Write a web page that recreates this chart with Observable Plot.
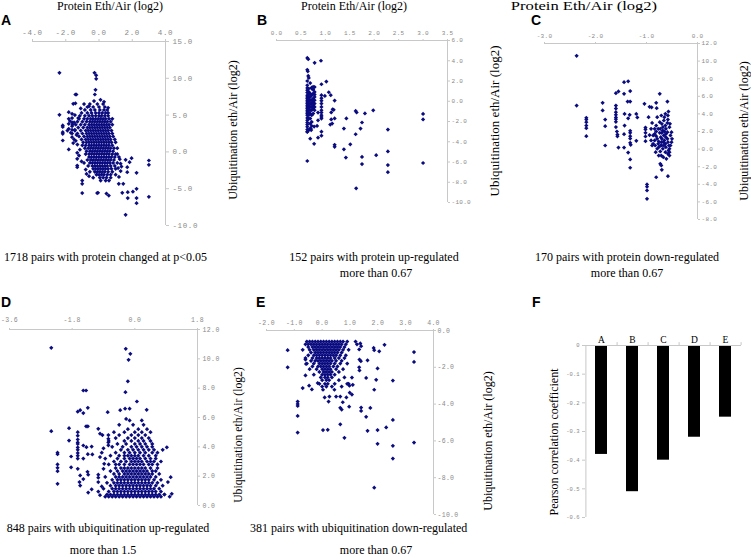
<!DOCTYPE html>
<html><head><meta charset="utf-8">
<script src="https://cdn.jsdelivr.net/npm/d3@7"></script>
<script src="https://cdn.jsdelivr.net/npm/@observablehq/plot@0.6"></script>
<style>
body{margin:0;background:#fff;}
#root{position:relative;width:751px;height:557px;overflow:hidden;background:#fff;}
.t{position:absolute;white-space:nowrap;font-family:"Liberation Serif","Times New Roman",serif;color:#000;line-height:1;}
.lt{position:absolute;white-space:nowrap;font-family:"Liberation Sans",Arial,sans-serif;font-weight:bold;font-size:14px;line-height:1;color:#000;}
</style></head><body><div id="root"></div>
<script>
// ---------------- DATA ----------------
// Panel A: 1718 pairs (protein vs ubiquitination, log2)
const outA = [[-2.38,10.75],[-0.27,10.75],[-0.17,10.4],[-0.17,9.93],[-0.21,8.44],[-0.25,7.8],[-1.42,7.8],[-1.36,7.8],[-1.55,6.53],[-1.42,6.6],[0.09,7.08],[-2.38,5.04],[-2.18,3.59],[-2.18,3.4],[-2.18,2.68],[-2.18,2.46],[-2.18,1.55],[-1.82,5.4],[-1.82,4.5],[-1.82,3.82],[-1.82,3.14],[-1.82,0.33],[-1.62,5.18],[-1.62,4.6],[-1.62,4.0],[-1.62,3.5],[-1.62,3.0],[-1.62,2.5],[-1.62,2.0],[-1.5,1.7],[-1.4,1.5],[-1.31,-0.12],[-1.31,-0.94],[-1.31,-1.85],[-1.31,-2.07],[-1.01,-3.89],[-1.01,-4.34],[-1.01,-5.6],[-0.11,-5.6],[-0.06,-5.55],[0.59,-5.93],[0.45,-5.66],[1.19,-4.33],[1.46,-4.33],[1.4,-5.56],[1.73,-5.47],[2.04,-5.4],[1.73,-6.28],[2.26,-5.02],[2.26,-6.28],[2.26,-6.97],[3.0,-1.17],[3.0,-1.75],[3.0,-6.1],[1.6,-8.55],[1.6,-1.07],[1.96,-0.85],[1.84,-1.4],[1.7,-2.07],[1.7,-2.75],[2.26,-2.84],[1.3,-2.6],[1.2,-3.4],[1.1,-0.3],[1.25,-1.0],[1.3,-1.6],[1.15,-2.2],[1.35,-2.0],[-0.9,-1.5],[-0.8,-2.4],[-0.6,-3.3],[-0.75,-3.0],[-0.3,6.9],[0.3,6.8],[-0.6,6.2],[0.55,6.0],[-0.9,6.5],[-1.1,5.9],[-1.75,4.2],[-1.7,2.6],[-1.5,4.0],[-1.45,3.0],[-1.35,2.3],[-1.25,4.6],[-1.3,1.0],[-1.15,0.3],[-1.6,3.7],[-1.45,5.0],[-1.9,2.9],[-1.55,1.2],[-1.2,-0.5],[-1.05,-1.3]];
const rowsA = [
 [6.5,[-0.55,-0.1,0.25]],
 [6.1,[-0.7,-0.35,0.0,0.35]],
 [5.7,[-0.85,-0.5,-0.25,0.05,0.3,0.5]],
 [5.3,[-1.05,-0.7,-0.45,-0.2,0.0,0.2,0.4,0.55]],
 [4.9,[-1.15,-0.85,-0.6,-0.4,-0.2,0.0,0.15,0.35,0.55]],
 [4.5,[-1.2,-0.9,-0.7,-0.5,-0.35,-0.2,-0.05,0.1,0.25,0.4,0.6,0.8]],
 [4.1,[-1.3,-1.0,-0.75,-0.55,-0.4,-0.25,-0.1,0.05,0.2,0.35,0.5,0.7]],
 [3.7,[-1.4,-1.1,-0.85,-0.6,-0.45,-0.3,-0.15,0.0,0.15,0.3,0.45,0.6,0.8]],
 [3.3,[-1.25,-0.95,-0.7,-0.55,-0.4,-0.25,-0.1,0.05,0.2,0.35,0.5,0.65]],
 [2.9,[-1.45,-1.1,-0.8,-0.65,-0.5,-0.35,-0.2,-0.05,0.1,0.25,0.4,0.55,0.75]],
 [2.5,[-1.3,-1.0,-0.75,-0.6,-0.45,-0.3,-0.15,0.0,0.15,0.3,0.45,0.6,0.8]],
 [2.1,[-1.2,-0.9,-0.7,-0.55,-0.4,-0.25,-0.1,0.05,0.2,0.35,0.5,0.65,0.85]],
 [1.7,[-1.05,-0.8,-0.65,-0.5,-0.35,-0.2,-0.05,0.1,0.25,0.4,0.55,0.7,0.95]],
 [1.3,[-0.95,-0.75,-0.6,-0.45,-0.3,-0.15,0.0,0.15,0.3,0.45,0.6,0.75,1.0]],
 [0.9,[-1.0,-0.8,-0.6,-0.45,-0.3,-0.15,0.0,0.15,0.3,0.45,0.6,0.8]],
 [0.5,[-0.85,-0.65,-0.5,-0.35,-0.2,-0.05,0.1,0.25,0.4,0.55,0.7,0.9,1.1]],
 [0.1,[-0.75,-0.55,-0.4,-0.25,-0.1,0.05,0.2,0.35,0.5,0.65,0.85]],
 [-0.3,[-0.8,-0.6,-0.45,-0.3,-0.15,0.0,0.15,0.3,0.45,0.6,0.8,1.0]],
 [-0.7,[-0.6,-0.45,-0.3,-0.15,0.0,0.15,0.3,0.45,0.6,0.75,0.95,1.2]],
 [-1.1,[-0.7,-0.5,-0.35,-0.2,-0.05,0.1,0.25,0.4,0.55,0.7,0.9]],
 [-1.5,[-0.55,-0.4,-0.25,-0.1,0.05,0.2,0.35,0.5,0.65,0.85,1.1]],
 [-1.9,[-0.65,-0.4,-0.25,-0.1,0.05,0.2,0.35,0.5,0.7,0.95]],
 [-2.3,[-0.35,-0.2,-0.05,0.1,0.25,0.4,0.55,0.75,1.0]],
 [-2.7,[-0.55,-0.25,-0.1,0.05,0.2,0.35,0.55,0.8]],
 [-3.1,[-0.15,0.0,0.15,0.3,0.5,0.7,1.0]],
 [-3.5,[-0.35,0.05,0.25,0.45,0.7]],
 [-3.9,[0.1,0.4,0.6]]
];

// Panel B: 152 pairs with protein up-regulated
const outB = [[0.63,4.28],[0.65,4.15],[0.91,4.0],[0.78,3.8],[0.63,3.1],[0.64,2.96],[0.65,2.5],[0.66,2.3],[0.63,2.0],[0.69,1.8],[1.02,1.94],[0.92,1.68],[0.72,1.35],[0.78,1.4],[0.75,1.15],[1.07,0.89],[1.11,0.6],[0.99,0.53],[0.92,0.6],[0.92,0.3],[0.92,0.06],[1.19,0.07],[1.15,-0.8],[1.17,-0.85],[1.12,-1.1],[1.62,-0.96],[1.64,-1.1],[1.81,-1.2],[1.98,-0.9],[1.43,-1.7],[1.19,-1.7],[1.12,-1.8],[1.14,-2.2],[1.1,-2.3],[0.77,-2.5],[1.75,-2.1],[1.72,-2.7],[1.38,-2.7],[2.28,-2.8],[3.0,-1.25],[3.0,-1.8],[1.62,-3.26],[0.63,-3.0],[0.66,-2.85],[0.71,-2.85],[0.7,-2.7],[0.92,-3.0],[0.92,-3.4],[0.85,-3.6],[0.69,-3.7],[0.77,-4.2],[1.19,-4.3],[1.19,-4.5],[1.51,-4.25],[1.38,-4.75],[1.42,-5.56],[1.75,-5.5],[2.04,-5.33],[2.28,-4.96],[1.75,-6.2],[2.28,-6.3],[2.28,-7.0],[3.0,-6.1],[0.63,-5.9],[1.63,-8.6]];
const colsB = [
 [0.63,[1.58,1.32,1.09,0.86,0.59,0.43,0.26,0.1,-0.07,-0.23,-0.4,-0.56,-0.72,-0.89,-1.05,-1.22,-1.38,-1.65,-1.88,-2.11,-2.3,-2.53,-2.8,-3.03]],
 [0.66,[1.25,0.92,0.66,0.43,0.2,0.0,-0.23,-0.46,-0.66,-0.89,-1.12,-1.38,-1.71]],
 [0.69,[0.76,0.43,0.1,-0.23,-0.56,-0.89,-1.22,-1.71,-2.2,-2.7]],
 [0.72,[1.25,0.59,0.1,-0.23,-0.56,-0.89,-1.38,-2.04,-2.44]],
 [0.75,[1.42,0.76,0.26,-0.07,-0.4,-0.72,-1.22]],
 [0.78,[0.92,0.66,0.43,0.1,-0.23,-0.56,-0.89]],
 [0.85,[-1.12,-1.88]],
 [0.92,[-0.23,-0.56,-0.89,-1.12,-1.38,-1.55,-1.71]],
 [0.83,[-2.44]]
];

// Panel C: 170 pairs with protein down-regulated
const ptsC = [[-2.37,10.6],[-2.37,4.95],[-2.18,3.56],[-2.18,3.35],[-2.18,3.06],[-2.18,2.68],[-2.18,2.38],[-2.18,1.47],[-1.86,5.26],[-1.86,4.39],[-1.81,3.36],[-1.81,2.6],[-1.81,0.41],[-1.6,4.95],[-1.6,4.6],[-1.6,4.2],[-1.6,3.9],[-1.6,3.6],[-1.6,3.4],[-1.6,3.1],[-1.6,2.5],[-1.58,2.0],[-1.57,1.65],[-1.57,1.45],[-1.6,6.35],[-1.55,6.55],[-1.55,0.18],[-1.44,7.6],[-1.36,7.7],[-1.44,6.28],[-1.32,6.6],[-1.37,5.4],[-1.32,5.4],[-1.43,4.0],[-1.36,3.5],[-1.33,3.9],[-1.43,2.68],[-1.44,1.7],[-1.44,0.18],[-1.36,-0.39],[-1.32,2.08],[-1.32,1.85],[-1.32,1.47],[-1.32,1.2],[-1.32,0.71],[-1.31,0.49],[-1.32,-1.18],[-1.32,-2.12],[-1.2,4.0],[-1.18,3.6],[-1.2,0.94],[-1.04,5.15],[-1.02,2.45],[-1.02,2.23],[-1.02,1.85],[-1.02,1.43],[-1.02,0.9],[-0.99,-4.02],[-0.99,-4.28],[-0.99,-4.7],[-0.99,-5.65],[-0.96,3.63],[-0.94,4.8],[-0.9,4.75],[-0.94,1.6],[-0.89,0.41],[-0.81,5.26],[-0.8,4.65],[-0.74,6.28],[-0.81,-3.2],[-0.59,5.4],[-0.57,4.27],[-0.58,-3.08],[-0.73,-1.67],[-0.71,-1.86],[-0.7,-2.35],
 [-0.84,1.73],[-0.81,1.47],[-0.79,1.17],[-0.76,0.86],[-0.74,1.85],[-0.72,1.36],[-0.71,0.79],[-0.7,0.41],[-0.68,2.11],[-0.66,1.55],[-0.65,0.98],[-0.63,0.6],[-0.62,1.73],[-0.59,1.17],[-0.58,0.79],[-0.56,0.41],[-0.55,0.04],[-0.63,2.68],[-0.59,2.98],[-0.66,3.25],[-0.7,2.87],[-0.68,2.49],[-0.62,2.3],[-0.58,3.36],[-0.65,3.63],[-0.81,2.68],[-0.77,2.3],[-0.83,0.41],[-0.79,0.04],[-0.73,-0.27],[-0.68,0.04],[-0.63,-0.35],[-0.58,-0.54],[-0.55,-0.73],[-0.71,-0.73],[-0.76,0.22],[-0.84,0.98],[-0.87,1.55],[-0.91,2.3],[-0.89,2.98],[-0.74,3.06],[-0.71,3.82],[-0.79,3.63],[-0.55,2.49],[-0.53,1.55],[-0.51,0.79],[-0.57,-0.15],[-0.62,0.22],[-0.66,0.41],[-0.72,0.41],[-0.77,0.6],[-0.7,1.17],[-0.67,0.79],[-0.62,1.36],[-0.73,2.3],[-0.7,1.85],[-0.65,2.0],[-0.59,1.92],[-0.81,2.0],[-0.84,2.3],[-0.87,0.6],[-0.82,-0.35],[-0.76,-0.73],[-0.67,-0.92],[-0.61,-1.11],[-0.55,-0.35],[-0.53,0.41],[-0.5,1.17],[-0.51,1.92],[-0.54,2.87],[-0.58,3.82],[-0.63,4.01],[-0.91,0.98]];

// Panel D: 848 pairs with ubiquitination up-regulated
const outD = [[-2.4,10.75],[-2.4,5.07],[-2.22,3.6],[-2.22,3.5],[-2.22,2.8],[-2.22,2.57],[-2.22,2.34],[-2.22,1.48],[-1.89,5.27],[-1.89,4.43],[-1.83,3.34],[-1.83,2.6],[-1.64,5.0],[-1.64,4.76],[-1.64,4.5],[-1.64,4.3],[-1.64,4.2],[-1.64,3.96],[-1.64,3.8],[-1.64,3.58],[-1.64,3.4],[-1.64,3.2],[-1.64,6.4],[-1.57,6.5],[-1.64,2.5],[-1.57,2.05],[-1.59,1.6],[-1.57,1.36],[-1.48,7.84],[-1.4,7.84],[-1.48,6.3],[-1.35,6.66],[-1.48,4.09],[-1.39,3.98],[-1.24,4.02],[-1.4,5.4],[-1.35,5.4],[-1.35,3.5],[-1.48,3.2],[-1.36,2.3],[-1.34,2.1],[-1.48,1.8],[-1.34,0.88],[-1.24,1.1],[-1.22,3.48],[-1.05,5.23],[-1.0,4.9],[-0.93,4.8],[-0.95,3.6],[-0.88,2.84],[-1.05,2.1],[-1.05,1.9],[-1.05,0.95],[-0.78,6.36],[-0.76,4.8],[-0.76,4.55],[-0.76,4.3],[-0.76,4.1],[-0.42,6.5],[-0.28,6.6],[-0.15,6.6],[-0.26,10.68],[-0.13,10.34],[-0.18,9.93],[-0.2,8.47],[-0.27,7.73],[0.06,7.09],[0.34,6.52],[-0.25,5.9],[0.92,3.97],[0.8,3.8],[1.03,1.93],[0.95,1.6],[0.85,0.75],[1.0,0.6],[1.06,0.8],[-1.0,0.7],[-0.95,1.3],[-1.05,1.6],[-0.9,2.5],[-1.0,3.3],[-0.9,3.9]];
const rowsD = [
 [0.6,[-0.85,-0.75,-0.65,-0.55,-0.45,-0.35,-0.25,-0.15,-0.05,0.05,0.15,0.25,0.35,0.45,0.55,0.65,0.75]],
 [0.75,[-0.8,-0.7,-0.6,-0.5,-0.4,-0.3,-0.2,-0.1,0.0,0.1,0.2,0.3,0.4,0.5,0.6,0.7,0.85]],
 [0.95,[-0.75,-0.6,-0.5,-0.4,-0.3,-0.2,-0.1,0.0,0.1,0.2,0.3,0.4,0.5,0.6,0.75]],
 [1.15,[-0.9,-0.65,-0.55,-0.45,-0.35,-0.25,-0.15,-0.05,0.05,0.15,0.25,0.35,0.45,0.55,0.7]],
 [1.35,[-0.7,-0.55,-0.45,-0.35,-0.25,-0.15,-0.05,0.05,0.15,0.25,0.35,0.45,0.6,0.8]],
 [1.55,[-0.8,-0.6,-0.5,-0.4,-0.3,-0.2,-0.1,0.0,0.1,0.2,0.3,0.4,0.5,0.65]],
 [1.75,[-0.65,-0.5,-0.4,-0.3,-0.2,-0.1,0.0,0.1,0.2,0.3,0.4,0.55,0.75]],
 [1.95,[-0.85,-0.55,-0.45,-0.35,-0.25,-0.15,-0.05,0.05,0.15,0.25,0.35,0.45,0.6]],
 [2.15,[-0.6,-0.45,-0.3,-0.2,-0.1,0.0,0.1,0.2,0.3,0.4,0.5,0.7]],
 [2.35,[-0.7,-0.5,-0.35,-0.25,-0.15,-0.05,0.05,0.15,0.25,0.35,0.5,0.6]],
 [2.55,[-0.55,-0.4,-0.3,-0.2,-0.1,0.0,0.1,0.2,0.3,0.45,0.65]],
 [2.8,[-0.75,-0.55,-0.45,-0.3,-0.15,-0.05,0.05,0.15,0.25,0.4,0.5,0.65]],
 [3.0,[-0.6,-0.4,-0.25,-0.1,0.0,0.1,0.2,0.35,0.45,0.55,0.75]],
 [3.2,[-0.85,-0.5,-0.3,-0.15,-0.05,0.05,0.15,0.3,0.45,0.6]],
 [3.4,[-0.7,-0.45,-0.3,-0.2,-0.1,0.0,0.1,0.25,0.4,0.6]],
 [3.6,[-0.55,-0.3,-0.15,0.0,0.15,0.3,0.5,0.65]],
 [3.8,[-0.4,-0.2,-0.05,0.1,0.25,0.4,0.55]],
 [4.0,[-0.65,-0.35,-0.1,0.05,0.2,0.35,0.5]],
 [4.2,[-0.5,-0.25,0.0,0.15,0.3,0.5]],
 [4.4,[-0.75,-0.3,-0.1,0.1,0.25,0.45]],
 [4.6,[-0.55,-0.2,0.0,0.2,0.4]],
 [4.8,[-0.45,-0.1,0.1,0.3]],
 [5.0,[-0.6,-0.3,0.0,0.2,0.45]],
 [5.2,[-0.2,0.1,0.35]],
 [5.5,[-0.45,-0.05,0.25]],
 [5.8,[-0.15,0.2]]
];

// Panel E: 381 pairs with ubiquitination down-regulated
const outE = [[-1.24,-1.07],[-1.24,-2.0],[-0.88,-3.86],[-0.88,-3.99],[-0.88,-4.1],[-0.88,-4.64],[-0.88,-5.55],[-0.7,-3.13],[-0.6,-1.58],[-0.58,-1.82],[-0.6,-2.44],[-0.47,-3.0],[-0.37,-3.2],[-0.16,-2.86],[0.03,-3.22],[0.03,-5.41],[0.2,-5.4],[0.09,-3.64],[0.26,-3.59],[0.23,-3.86],[0.44,-3.22],[0.5,-3.59],[0.65,-3.59],[0.87,-3.64],[0.65,-4.2],[0.7,-4.3],[0.65,-5.1],[0.8,-5.83],[0.74,-3.9],[0.97,-4.14],[0.99,-3.38],[1.07,-3.48],[0.95,-2.9],[0.98,-3.0],[1.07,-2.56],[1.1,-2.95],[1.34,-2.17],[1.33,-2.0],[1.34,-1.58],[1.39,-1.67],[1.37,-0.7],[1.4,-0.85],[1.33,-1.03],[1.63,-1.62],[1.58,-2.58],[1.4,-4.19],[1.4,-4.37],[1.73,-4.21],[1.58,-4.69],[1.63,-5.45],[1.85,-0.95],[1.87,-1.07],[2.05,-1.13],[2.24,-0.78],[1.99,-2.06],[1.94,-2.68],[1.87,-3.22],[1.99,-5.41],[1.99,-6.16],[2.3,-5.27],[2.54,-2.72],[2.54,-4.86],[2.54,-6.27],[2.54,-6.96],[1.87,-8.54],[3.3,-1.17],[3.3,-1.71],[3.3,-6.09]];
const rowsE = [
 [-0.6,[-0.55,-0.45,-0.35,-0.25,-0.15,-0.05,0.05,0.15,0.25,0.35,0.45,0.55,0.65,0.75,0.9,1.2]],
 [-0.75,[-0.6,-0.5,-0.4,-0.3,-0.2,-0.1,0.0,0.1,0.2,0.3,0.4,0.5,0.6,0.7,0.85,1.25]],
 [-0.9,[-0.5,-0.35,-0.25,-0.15,-0.05,0.05,0.15,0.25,0.35,0.45,0.55,0.65,0.8]],
 [-1.05,[-0.7,-0.45,-0.3,-0.2,-0.1,0.0,0.1,0.2,0.3,0.4,0.5,0.6,0.75,0.95]],
 [-1.2,[-0.4,-0.25,-0.15,-0.05,0.05,0.15,0.25,0.35,0.45,0.55,0.7]],
 [-1.35,[-0.5,-0.3,-0.2,-0.1,0.0,0.1,0.2,0.3,0.4,0.5,0.65,0.85]],
 [-1.5,[-0.6,-0.35,-0.2,-0.1,0.0,0.1,0.2,0.3,0.45,0.6,0.8]],
 [-1.65,[-0.4,-0.25,-0.15,-0.05,0.05,0.15,0.25,0.35,0.5,0.7]],
 [-1.8,[-0.55,-0.3,-0.1,0.0,0.1,0.2,0.3,0.45,0.65,0.9]],
 [-1.95,[-0.35,-0.15,-0.05,0.05,0.15,0.25,0.4,0.55]],
 [-2.1,[-0.45,-0.2,0.0,0.1,0.2,0.3,0.5,0.75]],
 [-2.25,[-0.1,0.05,0.15,0.25,0.35,0.6]],
 [-2.4,[-0.3,0.0,0.1,0.2,0.3,0.45]],
 [-2.55,[-0.05,0.1,0.2,0.35,0.8]],
 [-2.7,[0.0,0.15,0.25,0.6]],
 [-2.9,[-0.1,0.1,0.2,0.45,0.9]],
 [-3.05,[0.0,0.15,0.35,0.7]]
];

// Panel F: Pearson correlation coefficients
const catsF = ["A","B","C","D","E"];
const corrF = [-0.38,-0.51,-0.40,-0.32,-0.25];

// Tick labels
const ticksAx = [-4,-2,0,2,4], ticksAy = [15,10,5,0,-5,-10];
const ticksBx = [0,0.5,1,1.5,2,2.5,3,3.5], ticksBy = [6,4,2,0,-2,-4,-6,-8,-10];
const ticksCx = [-3,-2,-1,0], ticksCy = [12,10,8,6,4,2,0,-2,-4,-6,-8];
const ticksDx = [-3.6,-1.8,0,1.8], ticksDy = [12,10,8,6,4,2,0];
const ticksEx = [-2,-1,0,1,2,3,4], ticksEy = [0,-2,-4,-6,-8,-10];
const ticksFy = [0,-0.1,-0.2,-0.3,-0.4,-0.5,-0.6];

// ---------------- BUILD ----------------
const fromRows = rows => rows.flatMap(([y, xs]) => xs.map(x => [x, y]));
const fromCols = cols => cols.flatMap(([x, ys]) => ys.map(y => [x, y]));
const dataA = [...outA, ...fromRows(rowsA)];
const dataB = [...outB, ...fromCols(colsB)];
const dataC = ptsC;
const dataD = [...outD, ...fromRows(rowsD)];
const dataE = [...outE, ...fromRows(rowsE)];
const dataF = catsF.map((k, i) => ({k, r: corrF[i]}));

const root = document.getElementById("root");
const AX = "#c8c8c8", LAB = "#8a8a8a", DOT = "#0b0b80";
const f1 = d => d.toFixed(1);
const blank = () => "";

function place(svg, left, top) {
  svg.style.position = "absolute";
  svg.style.left = left + "px";
  svg.style.top = top + "px";
  svg.style.opacity = "0.999";
  root.appendChild(svg);
}

function scatter(o) {
  const mL = 20, mR = 45, mT = 24, mB = 10;
  const W = o.xpx[1] - o.xpx[0] + mL + mR;
  const H = o.ypx[1] - o.ypx[0] + mT + mB;
  const svg = Plot.plot({
    width: W, height: H, marginLeft: mL, marginRight: mR, marginTop: mT, marginBottom: mB,
    x: {domain: o.xd, label: null},
    y: {domain: o.yd, label: null},
    style: {fontFamily: "'Liberation Mono', monospace", fontSize: o.fs + "px", letterSpacing: o.ls + "px", color: LAB, background: "transparent", overflow: "visible"},
    marks: [
      Plot.ruleY([o.yd[1]], {stroke: AX}),
      Plot.ruleX([o.xd[1]], {stroke: AX}),
      Plot.axisX({anchor: "top", ticks: o.xt, tickSize: o.ts, tickFormat: blank, color: AX}),
      Plot.axisY({anchor: "right", ticks: o.yt, tickSize: o.ts, tickFormat: blank, color: AX}),
      Plot.axisX({anchor: "top", ticks: o.xt, tickSize: 0, tickPadding: o.ts + o.xp, tickFormat: f1, color: LAB}),
      Plot.axisY({anchor: "right", ticks: o.yt, tickSize: 0, tickPadding: o.ts + o.yp, tickFormat: f1, color: LAB}),
      Plot.dot(o.data, {x: d => d[0], y: d => d[1], symbol: "diamond2", r: 1.9, fill: DOT, stroke: "none"})
    ]
  });
  place(svg, o.xpx[0] - mL, o.ypx[0] - mT);
}

scatter({data: dataA, xd: [-4, 4], yd: [-10, 15], xpx: [32, 165], ypx: [41, 225], xt: ticksAx, yt: ticksAy, fs: 7.5, ls: 0.6, ts: 3, xp: 4, yp: 4});
scatter({data: dataB, xd: [0, 3.5], yd: [-10, 6], xpx: [276, 447], ypx: [40, 202], xt: ticksBx, yt: ticksBy, fs: 6, ls: 0.3, ts: 2, xp: 4, yp: 2});
scatter({data: dataC, xd: [-3, 0], yd: [-8, 12], xpx: [544, 697], ypx: [43, 219], xt: ticksCx, yt: ticksCy, fs: 6, ls: 0.3, ts: 2, xp: 4, yp: 2});
scatter({data: dataD, xd: [-3.6, 1.8], yd: [0, 12], xpx: [9, 197], ypx: [329, 505], xt: ticksDx, yt: ticksDy, fs: 6.5, ls: 0.4, ts: 2, xp: 6, yp: 3});
scatter({data: dataE, xd: [-2, 4], yd: [-10, 0], xpx: [266, 433], ypx: [330, 514], xt: ticksEx, yt: ticksEy, fs: 6.5, ls: 0.3, ts: 2, xp: 4, yp: 2});

// Panel F bar chart
(function () {
  const xpx = [585, 741], ypx = [345, 517];
  const mL = 30, mR = 10, mT = 20, mB = 10;
  const step = (xpx[1] - xpx[0]) / catsF.length;
  const svg = Plot.plot({
    width: xpx[1] - xpx[0] + mL + mR, height: ypx[1] - ypx[0] + mT + mB,
    marginLeft: mL, marginRight: mR, marginTop: mT, marginBottom: mB,
    x: {domain: catsF, paddingInner: 0.6, paddingOuter: 0.3, label: null},
    y: {domain: [-0.6, 0], label: null},
    style: {fontFamily: "'Liberation Mono', monospace", fontSize: "5.5px", color: LAB, background: "transparent", overflow: "visible"},
    marks: [
      Plot.barY(dataF, {x: "k", y: "r", fill: "#000"}),
      Plot.ruleY([0], {stroke: AX}),
      Plot.ruleX([catsF[0]], {dx: -step / 2, y1: -0.6, y2: 0, stroke: AX}),
      Plot.ruleX(catsF, {dx: step / 2, y1: 0, y2: 0.01, stroke: AX}),
      Plot.axisY({anchor: "left", ticks: ticksFy, tickSize: 3, tickFormat: blank, color: AX}),
      Plot.axisY({anchor: "left", ticks: ticksFy, tickSize: 0, tickPadding: 6, tickFormat: d => d === 0 ? "0" : d.toFixed(1), color: LAB}),
      Plot.axisX({anchor: "top", tickSize: 0, tickPadding: 3, color: "#000", fontFamily: "'Liberation Serif', serif", fontSize: 9.5})
    ]
  });
  place(svg, xpx[0] - mL, ypx[0] - mT);
})();

// ---------------- TEXT ----------------
function txt(s, x, y, size, anchor = "middle", rot = false, cls = "t", sx = 1) {
  const d = document.createElement("div");
  d.className = cls;
  d.textContent = s;
  d.style.left = x + "px";
  d.style.top = y + "px";
  if (size) d.style.fontSize = size + "px";
  const tx = anchor === "middle" ? "-50%" : anchor === "start" ? "0" : "-100%";
  d.style.transform = `translate(${tx},-50%)` + (rot ? " rotate(-90deg)" : "") + (sx !== 1 ? ` scaleX(${sx})` : "");
  root.appendChild(d);
}
const xTitle = "Protein Eth/Air (log2)";
const yTitle = "Ubiquitination eth/Air (log2)";
txt(xTitle, 110, 6, 12);
txt(xTitle, 354, 6, 12);
txt(xTitle, 584, 6, 12, "middle", false, "t", 1.38);
txt(yTitle, 233, 130, 12, "middle", true);
txt(yTitle, 494, 121, 13, "middle", true);
txt(yTitle, 744, 131, 12, "middle", true);
txt(yTitle, 239, 435, 11.7, "middle", true);
txt(yTitle, 488, 441, 12, "middle", true);
txt("Pearson correlation coefficient", 554, 442, 12, "middle", true);

txt("1718 pairs with protein changed at p<0.05", 4, 257, 12, "start");
txt("152 pairs with protein up-regulated", 374, 257, 12);
txt("more than 0.67", 376, 273, 12);
txt("170 pairs with protein down-regulated", 627, 257, 12);
txt("more than 0.67", 627, 273, 12);
txt("848 pairs with ubiquitination up-regulated", 108, 528, 12);
txt("more than 1.5", 103, 550, 12);
txt("381 pairs with ubiquitination down-regulated", 250, 528, 12, "start");
txt("more than 0.67", 376, 550, 12);

txt("A", 1, 20, null, "start", false, "lt");
txt("B", 257, 20, null, "start", false, "lt");
txt("C", 531, 20, null, "start", false, "lt");
txt("D", 1, 302, null, "start", false, "lt");
txt("E", 256, 302, null, "start", false, "lt");
txt("F", 532, 302, null, "start", false, "lt");
</script></body></html>
